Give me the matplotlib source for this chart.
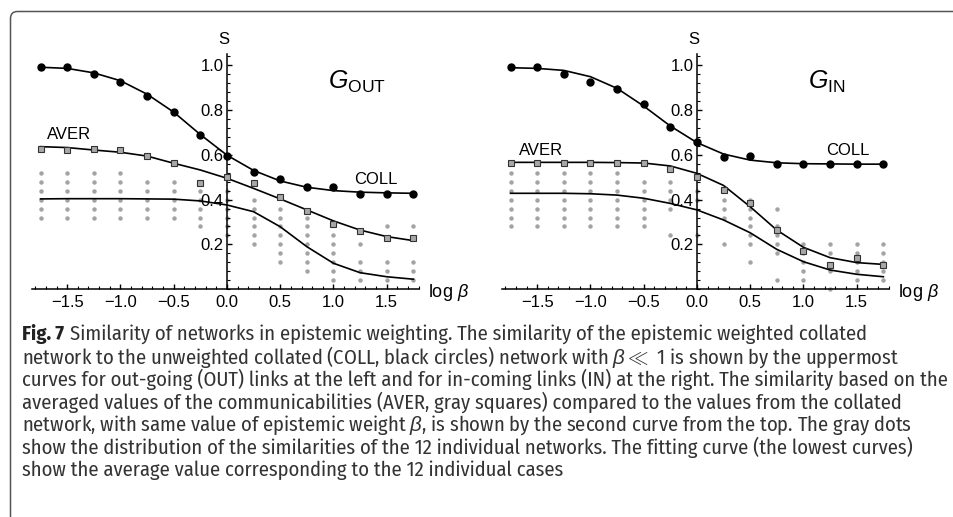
import matplotlib
matplotlib.use('Agg')
import matplotlib.pyplot as plt
from matplotlib import font_manager
from matplotlib.patches import FancyBboxPatch
from matplotlib.ticker import MultipleLocator
from matplotlib.transforms import IdentityTransform

plt.rcParams['font.family'] = ['Liberation Sans', 'DejaVu Sans']
plt.rcParams['mathtext.fontset'] = 'custom'
plt.rcParams['mathtext.rm'] = 'Liberation Sans'
plt.rcParams['mathtext.it'] = 'Liberation Sans:italic'
plt.rcParams['mathtext.bf'] = 'Liberation Sans:bold'

# log beta grid
beta = [-1.75, -1.5, -1.25, -1.0, -0.75, -0.5, -0.25, 0.0, 0.25, 0.5, 0.75, 1.0, 1.25, 1.5, 1.75]

# G_OUT panel
out_coll = [0.99, 0.99, 0.96, 0.925, 0.86, 0.79, 0.69, 0.595, 0.525, 0.49, 0.457, 0.457, 0.425, 0.425, 0.425]
out_aver = [0.625, 0.622, 0.625, 0.622, 0.596, 0.563, 0.472, 0.502, 0.472, 0.413, 0.35, 0.291, 0.261, 0.23, 0.23]
out_coll_fit = [0.99, 0.985, 0.965, 0.93, 0.87, 0.79, 0.69, 0.598, 0.53, 0.483, 0.455, 0.44, 0.433, 0.43, 0.428]
out_aver_fit = [0.636, 0.632, 0.621, 0.611, 0.594, 0.562, 0.532, 0.495, 0.45, 0.403, 0.354, 0.305, 0.264, 0.235, 0.217]
out_indiv_fit = [0.403, 0.404, 0.404, 0.404, 0.403, 0.402, 0.394, 0.376, 0.346, 0.279, 0.19, 0.116, 0.074, 0.056, 0.045]
out_dots = [
    [0.52, 0.48, 0.44, 0.40, 0.36, 0.32],
    [0.52, 0.48, 0.44, 0.40, 0.36, 0.32],
    [0.52, 0.48, 0.44, 0.40, 0.36, 0.32],
    [0.52, 0.48, 0.44, 0.40, 0.36, 0.32],
    [0.48, 0.44, 0.40, 0.36, 0.32],
    [0.48, 0.44, 0.40, 0.36, 0.32],
    [0.44, 0.40, 0.36, 0.32, 0.28],
    [0.44, 0.40, 0.36, 0.32, 0.28, 0.24],
    [0.40, 0.36, 0.32, 0.28, 0.24, 0.20],
    [0.36, 0.32, 0.28, 0.24, 0.20, 0.16, 0.12],
    [0.32, 0.28, 0.24, 0.20, 0.16, 0.12, 0.08],
    [0.24, 0.20, 0.16, 0.12, 0.08, 0.04],
    [0.20, 0.12, 0.08, 0.04],
    [0.28, 0.12, 0.08, 0.04],
    [0.28, 0.12, 0.08, 0.04],
]

# G_IN panel
in_coll = [0.992, 0.992, 0.96, 0.926, 0.892, 0.825, 0.725, 0.658, 0.591, 0.594, 0.559, 0.559, 0.559, 0.559, 0.559]
in_aver = [0.564, 0.564, 0.564, 0.564, 0.564, 0.564, 0.535, 0.502, 0.443, 0.383, 0.264, 0.172, 0.108, 0.141, 0.108]
in_coll_fit = [0.988, 0.985, 0.976, 0.948, 0.896, 0.817, 0.728, 0.654, 0.603, 0.576, 0.564, 0.56, 0.559, 0.558, 0.558]
in_aver_fit = [0.566, 0.566, 0.566, 0.566, 0.565, 0.563, 0.55, 0.517, 0.463, 0.368, 0.264, 0.187, 0.141, 0.119, 0.111]
in_indiv_fit = [0.428, 0.428, 0.428, 0.426, 0.42, 0.406, 0.383, 0.354, 0.309, 0.252, 0.178, 0.123, 0.086, 0.067, 0.056]
in_dots = [
    [0.52, 0.48, 0.44, 0.40, 0.36, 0.32, 0.28],
    [0.52, 0.48, 0.44, 0.40, 0.36, 0.32, 0.28],
    [0.52, 0.48, 0.44, 0.40, 0.36, 0.32, 0.28],
    [0.52, 0.48, 0.44, 0.40, 0.36, 0.32, 0.28],
    [0.52, 0.48, 0.44, 0.40, 0.36, 0.32, 0.28],
    [0.48, 0.44, 0.40, 0.36, 0.32, 0.28],
    [0.48, 0.44, 0.40, 0.36, 0.24],
    [0.44, 0.40, 0.24],
    [0.40, 0.36, 0.32, 0.20],
    [0.40, 0.36, 0.32, 0.28, 0.24, 0.20, 0.12],
    [0.36, 0.28, 0.24, 0.20, 0.16, 0.04],
    [0.20, 0.16, 0.12, 0.08, 0.04],
    [0.20, 0.16, 0.08, 0.0],
    [0.20, 0.16, 0.12, 0.08, 0.04],
    [0.20, 0.16, 0.12, 0.08, 0.04],
]

caption_lines = [
    'Similarity of networks in epistemic weighting. The similarity of the epistemic weighted collated',
    r'network to the unweighted collated (COLL, black circles) network with $\beta\ll$ 1 is shown by the uppermost',
    'curves for out-going (OUT) links at the left and for in-coming links (IN) at the right. The similarity based on the',
    'averaged values of the communicabilities (AVER, gray squares) compared to the values from the collated',
    r'network, with same value of epistemic weight $\beta$, is shown by the second curve from the top. The gray dots',
    'show the distribution of the similarities of the 12 individual networks. The fitting curve (the lowest curves)',
    'show the average value corresponding to the 12 individual cases',
]

W, H = 954, 517
fig = plt.figure(figsize=(W / 100, H / 100), dpi=100)

# frame around the figure (only top and left edges visible)
frame = FancyBboxPatch((10.5, -60), 1100, H - 11.5 + 60, boxstyle='round,pad=0,rounding_size=7',
                       transform=IdentityTransform(), fill=False, ec='#555555', lw=1.1)
fig.patches.append(frame)


def panel(ax, coll, aver, coll_fit, aver_fit, indiv_fit, dots, title, aver_xy, coll_xy):
    for b, col in zip(beta, dots):
        ax.plot([b] * len(col), col, 'o', ms=3.2, color='#a3a3a3', mec='none', zorder=1, clip_on=False)
    ax.plot(beta, indiv_fit, '-', color='black', lw=1.2, zorder=2)
    ax.plot(beta, aver_fit, '-', color='black', lw=1.2, zorder=2)
    ax.plot(beta, coll_fit, '-', color='black', lw=1.2, zorder=2)
    ax.plot(beta, aver, 's', ms=4.0, mfc='#a8a8a8', mec='#333333', mew=0.8, zorder=3, clip_on=False)
    ax.plot(beta, coll, 'o', ms=5.0, color='black', zorder=3, clip_on=False)

    ax.set_xlim(-1.83, 1.80)
    ax.set_ylim(0, 1.05)
    ax.spines['top'].set_visible(False)
    ax.spines['right'].set_visible(False)
    ax.spines['left'].set_position(('data', 0))
    for s in ['left', 'bottom']:
        ax.spines[s].set_linewidth(1.1)
    ax.xaxis.set_major_locator(MultipleLocator(0.5))
    ax.xaxis.set_minor_locator(MultipleLocator(0.1))
    ax.set_yticks([0.2, 0.4, 0.6, 0.8, 1.0])
    ax.yaxis.set_minor_locator(MultipleLocator(0.04))
    ax.tick_params(axis='x', which='major', direction='in', length=3.5, width=1.0, pad=4, labelsize=12)
    ax.tick_params(axis='x', which='minor', direction='in', length=2, width=0.8)
    ax.tick_params(axis='y', which='major', direction='in', length=3.5, width=1.0, pad=2.5, labelsize=12)
    ax.tick_params(axis='y', which='minor', direction='in', length=2, width=0.8)
    ax.patch.set_visible(False)

    ax.text(-0.03, 1.115, 'S', ha='center', va='center', fontsize=12)
    ax.text(2.08, -0.015, r'log $\beta$', ha='center', va='center', fontsize=13, clip_on=False)
    ax.text(1.22, 0.925, title, ha='center', va='center', fontsize=18)
    ax.text(aver_xy[0], aver_xy[1], 'AVER', ha='center', va='center', fontsize=12)
    ax.text(coll_xy[0], coll_xy[1], 'COLL', ha='center', va='center', fontsize=12)


ax1 = fig.add_axes([32 / W, 1 - 289.3 / H, 386.7 / W, 235.5 / H])
panel(ax1, out_coll, out_aver, out_coll_fit, out_aver_fit, out_indiv_fit, out_dots,
      r'$G_{\mathrm{OUT}}$', (-1.48, 0.692), (1.40, 0.49))

ax2 = fig.add_axes([502 / W, 1 - 289.3 / H, 386.7 / W, 235.5 / H])
panel(ax2, in_coll, in_aver, in_coll_fit, in_aver_fit, in_indiv_fit, in_dots,
      r'$G_{\mathrm{IN}}$', (-1.46, 0.621), (1.42, 0.62))

# caption, in a condensed sans close to the journal's face
names = {f.name for f in font_manager.fontManager.ttflist}
cap_font = 'Liberation Sans'
for cand in ['Fira Sans Condensed', 'Roboto Condensed', 'Asap Condensed', 'PT Sans Narrow']:
    if cand in names:
        cap_font = cand
        break

renderer = fig.canvas.get_renderer()
x0 = 22
size = 13.5
probe = fig.text(0, 0, caption_lines[2], fontsize=size, family=cap_font)
wid = probe.get_window_extent(renderer).width
probe.remove()
size = min(14.8, size * (950 - x0) / wid)

line_y = [334, 356.7, 379.4, 402, 424.7, 447.4, 470, 492.7]
head = fig.text(x0 / W, 1 - line_y[0] / H, 'Fig. 7', fontsize=size, family=cap_font,
                weight='bold', va='center', color='#222222')
hx = head.get_window_extent(renderer).x1
fig.text((hx + 6) / W, 1 - line_y[0] / H, caption_lines[0], fontsize=size, family=cap_font,
         va='center', color='#333333')
for i, line in enumerate(caption_lines[1:]):
    fig.text(x0 / W, 1 - line_y[i + 1] / H, line, fontsize=size, family=cap_font,
             va='center', color='#333333')

plt.savefig('out.png', dpi=100)
